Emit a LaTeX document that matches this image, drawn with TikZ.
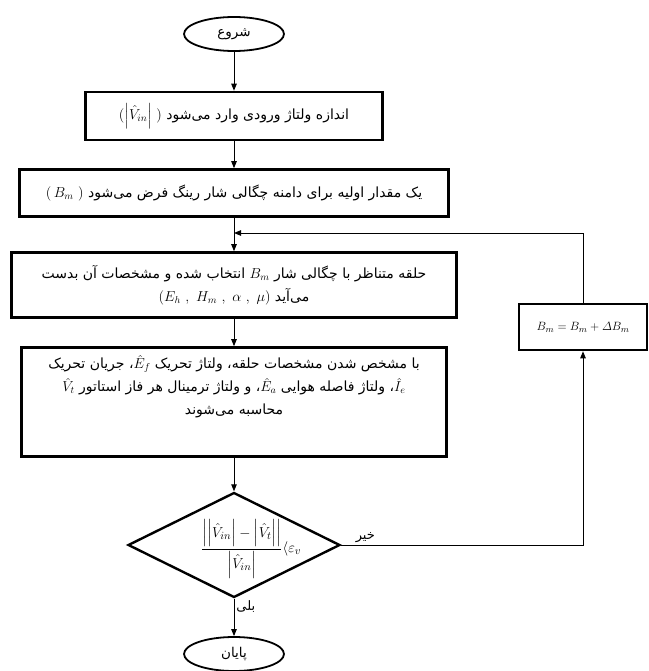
\documentclass[tikz,border=0pt]{standalone}
\usepackage{amsmath}
\usepackage{amssymb}
\usepackage{fontspec}
\usetikzlibrary{shapes.geometric, arrows.meta, positioning, calc}
\TeXXeTstate=1
\newfontfamily\farsifont[Script=Arabic]{DejaVu Sans}
\newcommand{\fa}[1]{{\farsifont\beginR #1\endR}}

\tikzset{
  flowbox/.style={draw, line width=2.6pt, rectangle, inner sep=0pt,
    align=center, font=\fontsize{14}{23}\selectfont},
  terminal/.style={draw, line width=1.8pt, ellipse, minimum width=100pt,
    minimum height=34pt, inner sep=0pt, font=\fontsize{13.5}{16}\selectfont},
  decision/.style={draw, line width=2.4pt, diamond, minimum width=212pt,
    minimum height=105pt, inner sep=0pt},
  conn/.style={line width=0.9pt, -{Triangle[length=7pt,width=5.5pt]}},
  flowlabel/.style={font=\fontsize{13}{15}\selectfont, inner sep=2pt}
}

\begin{document}
\begin{tikzpicture}[x=1pt,y=-1pt]
  \useasboundingbox (0,0) rectangle (648,671);
  % main column
  \node[terminal] (start) at (234,34) {\fa{شروع}};
  \node[flowbox, minimum width=297pt, minimum height=48pt] (measure) at (234,116)
    {\fa{اندازه ولتاژ ورودی وارد می‌شود \beginL$(\left|\hat{V}_{in}\right|\ )$\endL}};
  \node[flowbox, minimum width=429pt, minimum height=47pt] (init) at (234,193)
    {\fa{یک مقدار اولیه برای دامنه چگالی شار رینگ فرض می‌شود \beginL$(\,B_m\ )$\endL}};
  \node[flowbox, minimum width=445pt, minimum height=65pt] (ring) at (234,285)
    {\fa{حلقه متناظر با چگالی شار \beginL$B_m$\endL{} انتخاب شده و مشخصات آن بدست}\\
     \fa{می‌آید \beginL$(E_h\ ,\ H_m\ ,\ \alpha\ ,\ \mu)$\endL}};
  \node[flowbox, minimum width=425pt, minimum height=109pt] (compute) at (234,402)
    {\parbox[c][94pt][t]{420pt}{\centering
     \fa{با مشخص شدن مشخصات حلقه، ولتاژ تحریک \beginL$\hat{E}_f$\endL، جریان تحریک}\\
     \fa{\beginL$\hat{I}_e$\endL، ولتاژ فاصله هوایی \beginL$\hat{E}_a$\endL، و ولتاژ ترمینال هر فاز استاتور \beginL$\hat{V}_t$\endL}\\
     \fa{محاسبه می‌شوند}}};
  \node[decision] (check) at (234,545) {};
  \node[inner sep=0pt, font=\fontsize{15}{18}\selectfont] (checkexpr) at (251,549)
    {$\dfrac{\left|\left|\hat{V}_{in}\right|-\left|\hat{V}_t\right|\right|}{\left|\hat{V}_{in}\right|}\langle\varepsilon_v$};
  \node[terminal] (stop) at (234,654) {\fa{پایان}};
  % feedback loop
  \node[flowbox, minimum width=128pt, minimum height=46pt,
    font=\fontsize{12.5}{15}\selectfont] (update) at (583,327)
    {$B_m = B_m + \varDelta B_m$};
  \coordinate (merge) at (234,233);

  \draw[conn] (start) -- (measure);
  \draw[conn] (measure) -- (init);
  \draw[conn] (init) -- (ring);
  \draw[conn] (ring) -- (compute);
  \draw[conn] (compute) -- (check);
  \draw[conn] (check) -- (stop)
    node[flowlabel, pos=0.22, right]{\fa{بلی}};
  \draw[conn] (check.east) -| (update.south)
    node[flowlabel, pos=0.05, above]{\fa{خیر}};
  \draw[conn] (update.north) |- (merge);
\end{tikzpicture}
\end{document}
